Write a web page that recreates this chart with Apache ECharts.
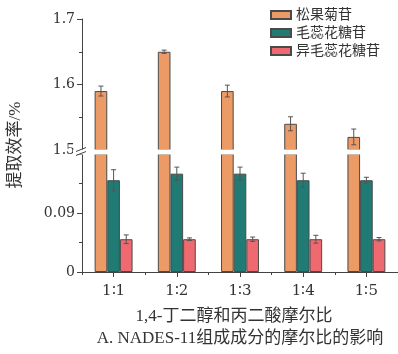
<!DOCTYPE html>
<html>
<head>
<meta charset="utf-8">
<script src="https://cdn.jsdelivr.net/npm/echarts@6/dist/echarts.min.js"></script>
<style>
  html, body { margin: 0; padding: 0; background: #fff; }
  #chart { width: 398px; height: 354px; }
</style>
</head>
<body>
<div id="chart"></div>
<script>
// Molar ratio of 1,4-butanediol to malonic acid
const categories = ['1∶1', '1∶2', '1∶3', '1∶4', '1∶5'];
const seriesNames = ['松果菊苷', '毛蕊花糖苷', '异毛蕊花糖苷'];

// Extraction efficiency (%) and error
const echinacoside = [1.59, 1.65, 1.59, 1.54, 1.52];
const echinacosideErr = [0.0076, 0.0025, 0.009, 0.0107, 0.012];
const acteoside = [0.14, 0.15, 0.15, 0.14, 0.14];
const acteosideErr = [0.016, 0.010, 0.010, 0.0107, 0.0045];
const isoacteoside = [0.05, 0.05, 0.05, 0.05, 0.05];
const isoacteosideErr = [0.0066, 0.002, 0.0033, 0.006, 0.0025];

// Broken value axis: upper and lower segments
const upperRange = [1.5, 1.7];
const lowerRange = [0, 0.18];
const upperLabels = [1.5, 1.6, 1.7];
const lowerLabels = [0, 0.09];

const colors = ['#EC9A66', '#1F7B74', '#EF6A70'];
const edge = '#4a4a4a';
const numFont = 'DejaVu Serif';
const cjkFont = '"Liberation Serif", "Noto Sans CJK SC"';

const chart = echarts.init(document.getElementById('chart'), null, { renderer: 'canvas' });

const values = [echinacoside, acteoside, isoacteoside];
const errors = [echinacosideErr, acteosideErr, isoacteosideErr];

function errorBars(slot) {
  return function (params, api) {
    const i = api.value(0), v = api.value(1), e = api.value(2);
    const band = api.size([1, 0])[0];
    const bw = band * 0.6 / 3;
    const x = api.coord([i, v])[0] + (slot - 1) * bw;
    const top = api.coord([i, v + e])[1];
    const bot = api.coord([i, v - e])[1];
    const c = 2.5;
    const style = { stroke: '#555', lineWidth: 1 };
    return {
      type: 'group',
      children: [
        { type: 'line', shape: { x1: x, y1: top, x2: x, y2: bot }, style },
        { type: 'line', shape: { x1: x - c, y1: top, x2: x + c, y2: top }, style },
        { type: 'line', shape: { x1: x - c, y1: bot, x2: x + c, y2: bot }, style }
      ]
    };
  };
}

function barSeries(k, axisIdx, data) {
  return {
    name: seriesNames[k],
    type: 'bar',
    xAxisIndex: axisIdx,
    yAxisIndex: axisIdx,
    data: data,
    barGap: 0,
    barCategoryGap: '40%',
    clip: true,
    itemStyle: { color: colors[k], borderColor: edge, borderWidth: 1 },
    emphasis: { disabled: true },
    animation: false
  };
}

function errSeries(k, axisIdx) {
  return {
    type: 'custom',
    xAxisIndex: axisIdx,
    yAxisIndex: axisIdx,
    renderItem: errorBars(k),
    data: values[k].map((v, i) => [i, v, errors[k][i]]),
    z: 5,
    silent: true,
    animation: false
  };
}

const series = [];
// Upper segment shows only the large values
series.push(barSeries(0, 0, echinacoside));
series.push(barSeries(1, 0, acteoside.map(() => '-')));
series.push(barSeries(2, 0, isoacteoside.map(() => '-')));
series.push(errSeries(0, 0));
// Lower segment
series.push(barSeries(0, 1, echinacoside));
series.push(barSeries(1, 1, acteoside));
series.push(barSeries(2, 1, isoacteoside));
series.push(errSeries(1, 1));
series.push(errSeries(2, 1));

const axisLineStyle = { color: '#444', width: 1 };

const yBase = {
  type: 'value',
  splitLine: { show: false },
  axisLine: { show: true, lineStyle: axisLineStyle },
  axisTick: { show: true, length: 5, lineStyle: axisLineStyle },
  minorTick: { show: true, splitNumber: 2, length: 3, lineStyle: axisLineStyle },
  axisLabel: { fontFamily: numFont, fontSize: 14, color: '#333', margin: 7 }
};

const option = {
  animation: false,
  backgroundColor: '#fff',
  legend: {
    orient: 'vertical',
    left: 270,
    top: 8,
    padding: 0,
    itemWidth: 20,
    itemHeight: 8,
    itemGap: 4,
    icon: 'rect',
    data: seriesNames,
    selectedMode: false,
    textStyle: { fontFamily: cjkFont, fontSize: 14, color: '#333' }
  },
  grid: [
    { left: 82, right: 0, top: 19, height: 131 },
    { left: 82, right: 0, top: 154, height: 118 }
  ],
  xAxis: [
    { type: 'category', gridIndex: 0, data: categories, show: false },
    {
      type: 'category', gridIndex: 1, data: categories,
      axisLine: { show: true, lineStyle: axisLineStyle },
      axisTick: { show: true, alignWithLabel: true, length: 5, lineStyle: axisLineStyle },
      axisLabel: { fontFamily: numFont, fontSize: 15, color: '#333', margin: 12 }
    },
    {
      type: 'category', gridIndex: 1, data: categories, position: 'bottom',
      axisLine: { show: false },
      axisTick: { show: true, length: 3, lineStyle: axisLineStyle },
      axisLabel: { show: false }
    }
  ],
  yAxis: [
    Object.assign({}, yBase, {
      gridIndex: 0, min: upperRange[0], max: upperRange[1], interval: 0.1,
      axisLabel: Object.assign({}, yBase.axisLabel, {
        customValues: upperLabels,
        formatter: v => v.toFixed(1)
      })
    }),
    Object.assign({}, yBase, {
      gridIndex: 1, min: lowerRange[0], max: lowerRange[1], interval: 0.09,
      axisLabel: Object.assign({}, yBase.axisLabel, {
        customValues: lowerLabels,
        formatter: v => (v === 0 ? '0' : String(+v.toFixed(2)))
      })
    })
  ],
  series: series
};

chart.setOption(option);

// Break marks, y-axis title and captions
const yUpperBottom = chart.convertToPixel({ yAxisIndex: 0 }, upperRange[0]);
const yLowerTop = chart.convertToPixel({ yAxisIndex: 1 }, lowerRange[1]);
const gridLeft = 82;
const midBreak = (yUpperBottom + yLowerTop) / 2;

chart.setOption({
  graphic: [
    {
      // white gap across the plot where the value axis is broken
      type: 'rect', z: 100,
      shape: { x: gridLeft - 9, y: yUpperBottom - 0.5, width: 398 - gridLeft + 9, height: yLowerTop - yUpperBottom + 1 },
      style: { fill: '#fff' }
    },
    {
      type: 'line', z: 101,
      shape: { x1: gridLeft - 6, y1: midBreak - 0.5, x2: gridLeft + 4, y2: midBreak - 4.5 },
      style: { stroke: '#444', lineWidth: 1 }
    },
    {
      type: 'line', z: 101,
      shape: { x1: gridLeft - 6, y1: midBreak + 3.5, x2: gridLeft + 4, y2: midBreak - 0.5 },
      style: { stroke: '#444', lineWidth: 1 }
    },
    {
      type: 'text', z: 101,
      x: 16, y: 145, rotation: Math.PI / 2,
      style: {
        text: '提取效率/%', fontFamily: cjkFont, fontSize: 17, fill: '#333',
        align: 'center', verticalAlign: 'middle'
      }
    },
    {
      type: 'text', z: 101,
      x: 234, y: 317,
      style: {
        text: '1,4-丁二醇和丙二酸摩尔比', fontFamily: cjkFont, fontSize: 17, fill: '#333',
        align: 'center', verticalAlign: 'middle'
      }
    },
    {
      type: 'text', z: 101,
      x: 240, y: 339,
      style: {
        text: 'A. NADES-11组成成分的摩尔比的影响', fontFamily: cjkFont, fontSize: 17, fill: '#333',
        align: 'center', verticalAlign: 'middle'
      }
    }
  ]
});
</script>
</body>
</html>
